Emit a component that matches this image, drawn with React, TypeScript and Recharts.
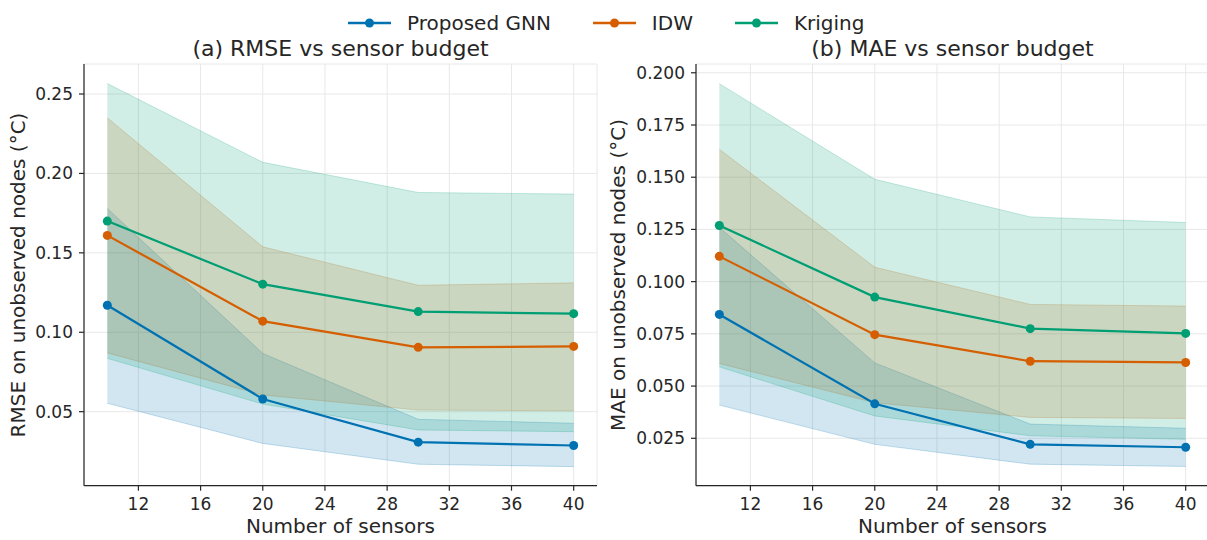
import React from 'react';
import { ComposedChart, Area, Line, XAxis, YAxis, CartesianGrid, Legend } from 'recharts';

const sensors = [10, 20, 30, 40];
const xTicks = [12, 16, 20, 24, 28, 32, 36, 40];
const rmseTicks = [0.05, 0.1, 0.15, 0.2, 0.25];
const maeTicks = [0.025, 0.05, 0.075, 0.1, 0.125, 0.15, 0.175, 0.2];

// RMSE (mean and band) per method
const gnnRmse = [0.117, 0.058, 0.0308, 0.0287];
const gnnRmseLow = [0.0553, 0.03, 0.0169, 0.0154];
const gnnRmseHigh = [0.178, 0.0867, 0.0452, 0.0427];
const idwRmse = [0.161, 0.107, 0.0905, 0.0911];
const idwRmseLow = [0.087, 0.0605, 0.051, 0.0506];
const idwRmseHigh = [0.235, 0.1538, 0.1296, 0.1311];
const krigRmse = [0.17, 0.1303, 0.113, 0.1117];
const krigRmseLow = [0.0836, 0.0548, 0.0385, 0.0374];
const krigRmseHigh = [0.2566, 0.207, 0.188, 0.187];

// MAE (mean and band) per method
const gnnMae = [0.0843, 0.0415, 0.0221, 0.0207];
const gnnMaeLow = [0.0409, 0.0221, 0.0126, 0.0115];
const gnnMaeHigh = [0.126, 0.0611, 0.0318, 0.0298];
const idwMae = [0.1121, 0.0746, 0.0619, 0.0613];
const idwMaeLow = [0.0608, 0.042, 0.035, 0.0345];
const idwMaeHigh = [0.1634, 0.1069, 0.0891, 0.0883];
const krigMae = [0.1269, 0.0926, 0.0775, 0.0752];
const krigMaeLow = [0.0592, 0.0357, 0.0262, 0.0245];
const krigMaeHigh = [0.1948, 0.149, 0.131, 0.1283];

const methods = [
  { key: 'gnn', name: 'Proposed GNN', color: '#0072B2' },
  { key: 'idw', name: 'IDW', color: '#D55E00' },
  { key: 'kriging', name: 'Kriging', color: '#009E73' },
];

const rmseRows = sensors.map((s, i) => ({
  sensors: s,
  gnn: gnnRmse[i],
  idw: idwRmse[i],
  kriging: krigRmse[i],
  gnnBand: [gnnRmseLow[i], gnnRmseHigh[i]],
  idwBand: [idwRmseLow[i], idwRmseHigh[i]],
  krigingBand: [krigRmseLow[i], krigRmseHigh[i]],
}));

const maeRows = sensors.map((s, i) => ({
  sensors: s,
  gnn: gnnMae[i],
  idw: idwMae[i],
  kriging: krigMae[i],
  gnnBand: [gnnMaeLow[i], gnnMaeHigh[i]],
  idwBand: [idwMaeLow[i], idwMaeHigh[i]],
  krigingBand: [krigMaeLow[i], krigMaeHigh[i]],
}));

const FONT = 'DejaVu Sans, Verdana, sans-serif';
const INK = '#262626';

const LegendRow = (props: any) => {
  const order = methods.map((m) => m.name);
  const items = (props.payload || [])
    .filter((p: any) => p.type !== 'none')
    .sort((a: any, b: any) => order.indexOf(a.value) - order.indexOf(b.value));
  return (
    <div style={{ display: 'flex', alignItems: 'center', fontFamily: FONT, fontSize: 20, color: INK, whiteSpace: 'nowrap' }}>
      {items.map((item: any) => (
        <div key={item.value} style={{ display: 'flex', alignItems: 'center', marginRight: 42 }}>
          <svg width={43} height={20} style={{ marginRight: 16 }}>
            <line x1={0} y1={10} x2={43} y2={10} stroke={item.color} strokeWidth={2.4} />
            <circle cx={21.5} cy={10} r={4.5} fill={item.color} />
          </svg>
          <span>{item.value}</span>
        </div>
      ))}
    </div>
  );
};

interface PanelProps {
  rows: any[];
  title: string;
  yLabel: string;
  domain: [number, number];
  ticks: number[];
  decimals: number;
  width: number;
  axisWidth: number;
  showLegend?: boolean;
}

const Panel: React.FC<PanelProps> = ({ rows, title, yLabel, domain, ticks, decimals, width, axisWidth, showLegend }) => {
  const plotLeft = axisWidth;
  const plotRight = width - (showLegend ? 3 : 0);
  const cx = (plotLeft + plotRight) / 2;
  return (
    <ComposedChart
      width={width}
      height={540}
      data={rows}
      margin={{ top: 64, right: showLegend ? 3 : 0, bottom: 0, left: 0 }}
      style={{ fontFamily: FONT }}
    >
      <CartesianGrid stroke="#e8e8e8" strokeWidth={1} />
      <XAxis
        dataKey="sensors"
        type="number"
        domain={[8.5, 41.5]}
        ticks={xTicks}
        interval={0}
        allowDataOverflow
        height={54.3}
        tickSize={5}
        tickMargin={7}
        axisLine={{ stroke: INK, strokeWidth: 1.2 }}
        tickLine={{ stroke: INK, strokeWidth: 1.2 }}
        tick={{ fontSize: 17, fill: INK }}
      />
      <YAxis
        type="number"
        domain={domain}
        ticks={ticks}
        interval={0}
        allowDataOverflow
        width={axisWidth}
        tickSize={5}
        tickMargin={6}
        tickFormatter={(v: number) => v.toFixed(decimals)}
        axisLine={{ stroke: INK, strokeWidth: 1.2 }}
        tickLine={{ stroke: INK, strokeWidth: 1.2 }}
        tick={{ fontSize: 17, fill: INK }}
      />
      {methods.map((m) => (
        <Area
          key={m.key + 'Band'}
          dataKey={m.key + 'Band'}
          type="linear"
          fill={m.color}
          fillOpacity={0.18}
          stroke={m.color}
          strokeOpacity={0.22}
          strokeWidth={1}
          dot={false}
          activeDot={false}
          legendType="none"
          isAnimationActive={false}
        />
      ))}
      {methods.map((m) => (
        <Line
          key={m.key}
          dataKey={m.key}
          name={m.name}
          type="linear"
          stroke={m.color}
          strokeWidth={2.2}
          dot={{ r: 4.5, fill: m.color, stroke: m.color, strokeWidth: 0 }}
          activeDot={false}
          isAnimationActive={false}
        />
      ))}
      {showLegend && (
        <Legend
          layout="horizontal"
          verticalAlign="middle"
          align="center"
          content={<LegendRow />}
          wrapperStyle={{ left: 348, top: 11, width: 620, height: 20 }}
        />
      )}
      <text x={cx} y={56} textAnchor="middle" fontSize={22} fill={INK} fontFamily={FONT}>
        {title}
      </text>
      <text x={cx} y={533} textAnchor="middle" fontSize={20} fill={INK} fontFamily={FONT}>
        Number of sensors
      </text>
      <text
        transform="translate(25, 275) rotate(-90)"
        textAnchor="middle"
        fontSize={20}
        fill={INK}
        fontFamily={FONT}
      >
        {yLabel}
      </text>
    </ComposedChart>
  );
};

export default function App() {
  return (
    <div style={{ position: 'absolute', left: 0, top: 0, width: 1207, height: 540, overflow: 'hidden', background: '#fff' }}>
      <div style={{ position: 'absolute', left: 0, top: 0 }}>
        <Panel
          rows={rmseRows}
          title="(a) RMSE vs sensor budget"
          yLabel="RMSE on unobserved nodes (°C)"
          domain={[0.0034, 0.2689]}
          ticks={rmseTicks}
          decimals={2}
          width={600}
          axisWidth={84}
          showLegend
        />
      </div>
      <div style={{ position: 'absolute', left: 600, top: 0 }}>
        <Panel
          rows={maeRows}
          title="(b) MAE vs sensor budget"
          yLabel="MAE on unobserved nodes (°C)"
          domain={[0.0023, 0.2042]}
          ticks={maeTicks}
          decimals={3}
          width={609}
          axisWidth={96}
        />
      </div>
    </div>
  );
}
